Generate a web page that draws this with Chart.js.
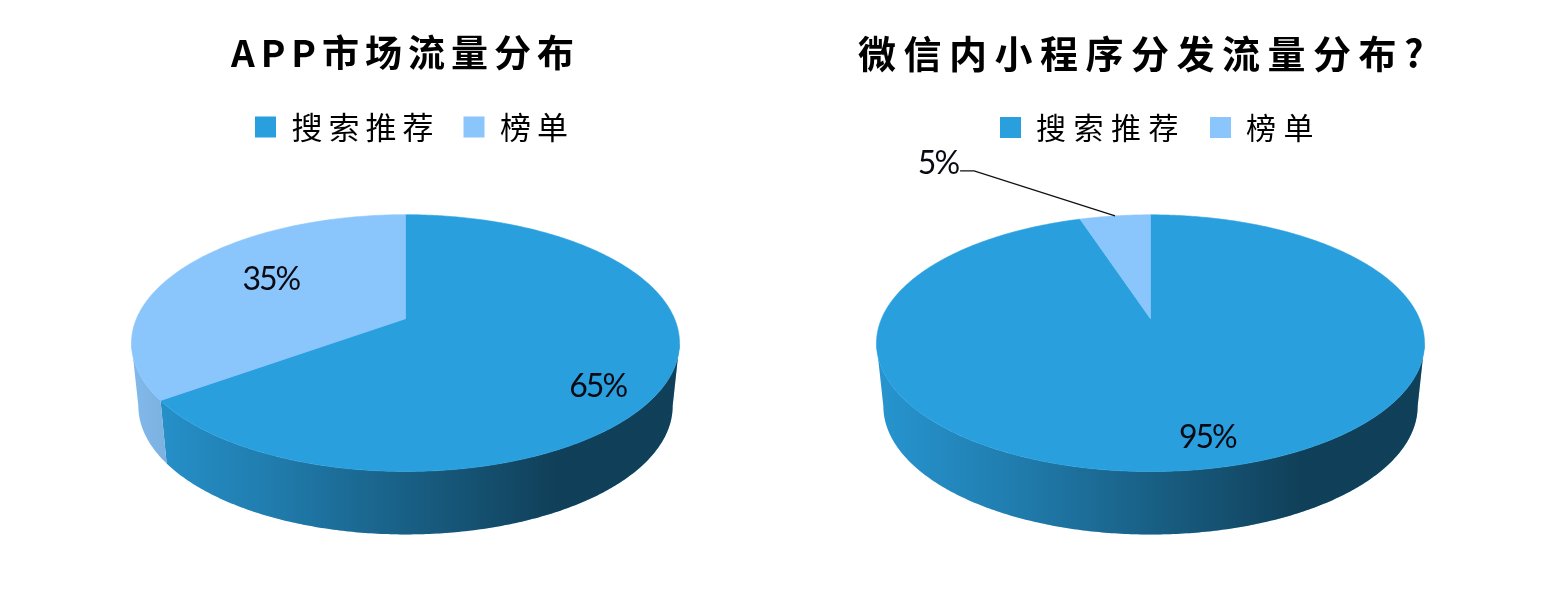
<!DOCTYPE html>
<html>
<head>
<meta charset="utf-8">
<script src="https://cdn.jsdelivr.net/npm/chart.js@4/dist/chart.umd.min.js"></script>
<style>
  html, body { margin: 0; padding: 0; background: #fff; }
  .box { position: absolute; top: 0; width: 745px; height: 596px; }
</style>
</head>
<body>
<div class="box" style="left:33px"><canvas id="appChart"></canvas></div>
<div class="box" style="left:778px"><canvas id="wechatChart"></canvas></div>
<script>
const categories = ['搜索推荐', '榜单'];
const appValues = [65, 35];
const wechatValues = [95, 5];
const appTitle = 'APP市场流量分布';
const wechatTitle = '微信内小程序分发流量分布?';
const sliceColors = ['#299FDE', '#8AC6FB'];

const CJK = '"Noto Sans CJK SC", sans-serif';
const LATIN = 'Lato, "Open Sans", sans-serif';

// perspective of the tilted disc, all relative to outerRadius
const TILT = 0.19;
const SQUASH = 0.46;
const WALL_SHRINK = 0.975;
const WALL_DEPTH = 0.234;

function project(arc, angle, r = 1) {
  const R = arc.outerRadius;
  const u = Math.cos(angle) * r;
  const v = Math.sin(angle) * r;
  const w = 1 - TILT * v;
  return { x: arc.x + R * u / w, y: arc.y + R * SQUASH * v / w };
}

function wallPoint(arc, angle) {
  const p = project(arc, angle);
  return {
    x: arc.x + (p.x - arc.x) * WALL_SHRINK,
    y: p.y + arc.outerRadius * WALL_DEPTH
  };
}

function sampleAngles(a0, a1) {
  const n = Math.max(2, Math.ceil((a1 - a0) / 0.01));
  const out = [];
  for (let i = 0; i <= n; i++) out.push(a0 + (a1 - a0) * i / n);
  return out;
}

const pie3d = {
  id: 'pie3d',
  beforeLayout(chart, args, opts) {
    chart.ctx.letterSpacing = opts.spacing + 'px';
  },
  afterLayout(chart, args, opts) {
    chart.titleBlock.left += opts.titleShift;
    chart.titleBlock.right += opts.titleShift;
    chart.legend.left += opts.legendShift;
    chart.legend.right += opts.legendShift;
  },
  beforeDraw(chart, args, opts) {
    chart.ctx.letterSpacing = opts.spacing + 'px';
  },
  beforeDatasetsDraw(chart, args, opts) {
    const ctx = chart.ctx;
    const arcs = chart.getDatasetMeta(0).data;
    const colors = chart.data.datasets[0].backgroundColor;
    const values = chart.data.datasets[0].data;
    const total = values.reduce((a, b) => a + b, 0);
    const R = arcs[0].outerRadius;
    const cx = arcs[0].x;

    // side wall first, only the part between the two silhouette angles
    const shade = ctx.createLinearGradient(cx - R, 0, cx + R, 0);
    shade.addColorStop(0, 'rgba(0,0,0,0.07)');
    shade.addColorStop(0.25, 'rgba(0,0,0,0.22)');
    shade.addColorStop(0.5, 'rgba(0,0,0,0.40)');
    shade.addColorStop(0.78, 'rgba(0,0,0,0.60)');
    shade.addColorStop(1, 'rgba(0,0,0,0.60)');
    const edge = Math.asin(TILT);

    arcs.forEach((arc, i) => {
      const lo = Math.max(arc.startAngle, edge);
      const hi = Math.min(arc.endAngle, Math.PI - edge);
      if (hi <= lo) return;
      const angles = sampleAngles(lo, hi);
      ctx.beginPath();
      angles.forEach((a, k) => {
        const p = project(arc, a);
        if (k) ctx.lineTo(p.x, p.y); else ctx.moveTo(p.x, p.y);
      });
      angles.slice().reverse().forEach(a => {
        const p = wallPoint(arc, a);
        ctx.lineTo(p.x, p.y);
      });
      ctx.closePath();
      ctx.fillStyle = colors[i];
      ctx.fill();
      ctx.fillStyle = shade;
      ctx.fill();
    });

    // top face
    arcs.forEach((arc, i) => {
      ctx.beginPath();
      ctx.moveTo(arc.x, arc.y);
      sampleAngles(arc.startAngle, arc.endAngle).forEach(a => {
        const p = project(arc, a);
        ctx.lineTo(p.x, p.y);
      });
      ctx.closePath();
      ctx.fillStyle = colors[i];
      ctx.strokeStyle = colors[i];
      ctx.lineWidth = 0.6;
      ctx.fill();
      ctx.stroke();
    });

    // percent labels
    ctx.save();
    ctx.letterSpacing = '-2px';
    ctx.font = '32px ' + LATIN;
    ctx.fillStyle = '#0a0a14';
    ctx.textBaseline = 'middle';
    arcs.forEach((arc, i) => {
      const mid = (arc.startAngle + arc.endAngle) / 2;
      const text = Math.round(values[i] / total * 100) + '%';
      const lab = opts.labels[i];
      const p = project(arc, mid, lab.r);
      if (lab.leader) {
        const rim = project(arc, mid);
        const ex = rim.x + lab.leader[0];
        const ey = rim.y + lab.leader[1];
        ctx.beginPath();
        ctx.moveTo(rim.x, rim.y);
        ctx.lineTo(ex, ey);
        ctx.lineTo(ex - 14, ey);
        ctx.strokeStyle = '#111';
        ctx.lineWidth = 1.4;
        ctx.stroke();
        ctx.textAlign = 'right';
        ctx.fillText(text, ex - 14 + lab.dx, ey + lab.dy);
      } else {
        ctx.textAlign = 'center';
        ctx.fillText(text, p.x + lab.dx, p.y + lab.dy);
      }
    });
    ctx.restore();
    return false;
  }
};

function makePie(id, values, title, titleSize, legendSize, spacing, shifts, labels) {
  return new Chart(document.getElementById(id), {
    type: 'pie',
    data: {
      labels: categories,
      datasets: [{ data: values, backgroundColor: sliceColors, borderWidth: 0 }]
    },
    plugins: [pie3d],
    options: {
      responsive: true,
      maintainAspectRatio: false,
      animation: false,
      radius: 269,
      layout: { padding: { top: 31, bottom: 111 } },
      plugins: {
        tooltip: { enabled: false },
        title: {
          display: true,
          text: title,
          color: '#000',
          font: { family: CJK, size: titleSize, weight: 'bold' },
          padding: { top: 0, bottom: 12 }
        },
        legend: {
          position: 'top',
          labels: {
            boxWidth: 21,
            boxHeight: 21,
            padding: 24,
            color: '#000',
            font: { family: CJK, size: legendSize }
          }
        },
        pie3d: { spacing, titleShift: shifts[0], legendShift: shifts[1], labels }
      }
    }
  });
}

makePie('appChart', appValues, appTitle, 37, 31, 6, [0, 9], [
  { r: 0.75, dx: 0, dy: 23 },
  { r: 0.6, dx: 2, dy: -7 }
]);
makePie('wechatChart', wechatValues, wechatTitle, 38, 30, 7.5, [-6, 10], [
  { r: 0.82, dx: 16, dy: 0 },
  { r: 1, dx: -2, dy: -7, leader: [-141, -45] }
]);
</script>
</body>
</html>
